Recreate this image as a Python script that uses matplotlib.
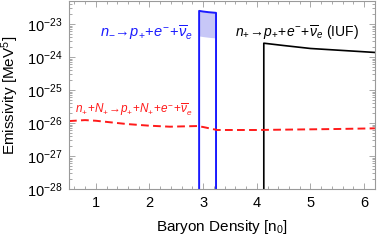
import numpy as np
import matplotlib
matplotlib.use("Agg")
import matplotlib.pyplot as plt
from matplotlib.ticker import FixedLocator, LogLocator, MultipleLocator, NullFormatter, FixedFormatter

plt.rcParams['font.family'] = ['Liberation Sans', 'DejaVu Sans']
plt.rcParams['mathtext.fontset'] = 'custom'
plt.rcParams['mathtext.rm'] = 'Liberation Sans'
plt.rcParams['mathtext.it'] = 'Liberation Sans:italic'
plt.rcParams['mathtext.bf'] = 'Liberation Sans:bold'

# Data (log10 of emissivity)
red_x = [0.5, 0.8, 1.0, 1.58, 2.0, 2.38, 2.9, 3.0, 3.26, 4.0, 4.5, 5.0, 5.5, 6.2]
red_log = [-25.94, -25.91, -25.93, -26.03, -26.08, -26.11, -26.09, -26.12, -26.21, -26.21, -26.2, -26.19, -26.18, -26.16]

blue_x = [2.925, 3.0, 3.1, 3.24]
blue_upper_log = [-22.6, -22.62, -22.64, -22.66]
blue_lower_log = [-23.36, -23.38, -23.40, -23.42]

black_x = [4.13, 4.5, 5.0, 5.5, 6.2]
black_log = [-23.58, -23.65, -23.74, -23.79, -23.86]

y_exponents = [-28, -27, -26, -25, -24, -23]
x_ticks = [1, 2, 3, 4, 5, 6]

floor_val = 1e-30

fig = plt.figure(figsize=(3.81, 2.43), dpi=100)
ax = fig.add_axes([0.181, 0.222, 0.803, 0.774])

bx = np.array(blue_x)
bu = 10.0 ** np.array(blue_upper_log)
bl = 10.0 ** np.array(blue_lower_log)
ax.fill_between(bx, bl, bu, color=(0.78, 0.78, 0.97), lw=0)
ax.plot(np.r_[bx[0], bx, bx[-1]], np.r_[floor_val, bu, floor_val], color='#1a1aff', lw=1.4)

kx = np.array(black_x)
ky = 10.0 ** np.array(black_log)
ax.plot(np.r_[kx[0], kx], np.r_[floor_val, ky], color='black', lw=1.2)

ax.plot(red_x, 10.0 ** np.array(red_log), color='#ff1a1a', lw=1.4, ls=(0, (4, 2.2)))

ax.set_yscale('log')
ax.set_xlim(0.5, 6.2)
ax.set_ylim(1e-28, 10 ** -22.3)

ax.yaxis.set_major_locator(FixedLocator([10.0 ** e for e in y_exponents]))
ax.yaxis.set_major_formatter(FixedFormatter([r'$10^{%d}$' % e for e in y_exponents]))
ax.yaxis.set_minor_locator(LogLocator(base=10, subs=np.arange(2, 10), numticks=20))
ax.yaxis.set_minor_formatter(NullFormatter())
ax.xaxis.set_major_locator(FixedLocator(x_ticks))
ax.xaxis.set_minor_locator(MultipleLocator(0.2))

gray = '#9a9a9a'
for s in ax.spines.values():
    s.set_color(gray)
    s.set_linewidth(0.8)
ax.tick_params(which='both', direction='in', top=True, right=True, color=gray,
               labelcolor='black', width=0.6)
ax.tick_params(which='major', length=4, pad=5, labelsize=10.5)
ax.tick_params(which='minor', length=2)

ax.set_xlabel('Baryon Density [n$_0$]', fontsize=11, labelpad=6)
ax.set_ylabel('Emissivity [MeV$^5$]', fontsize=11, labelpad=4)

ax.text(1.07, 10 ** -23.25, r'$n_{-}\!\rightarrow\!p_{+}\!+\!e^{-}\!+\!\overline{\nu}_{e}$',
        color='#1a1aff', fontsize=10.5, va='center', ha='left')
ax.text(3.6, 10 ** -23.25, r'$n_{+}\!\rightarrow\!p_{+}\!+\!e^{-}\!+\!\overline{\nu}_{e}$ (IUF)',
        color='black', fontsize=10, va='center', ha='left')
ax.text(0.62, 10 ** -25.6, r'$n_{+}\!+\!N_{+}\!\rightarrow\!p_{+}\!+\!N_{+}\!+\!e^{-}\!+\!\overline{\nu}_{e}$',
        color='#ff1a1a', fontsize=8.5, va='center', ha='left')

fig.savefig('out.png', dpi=100)
